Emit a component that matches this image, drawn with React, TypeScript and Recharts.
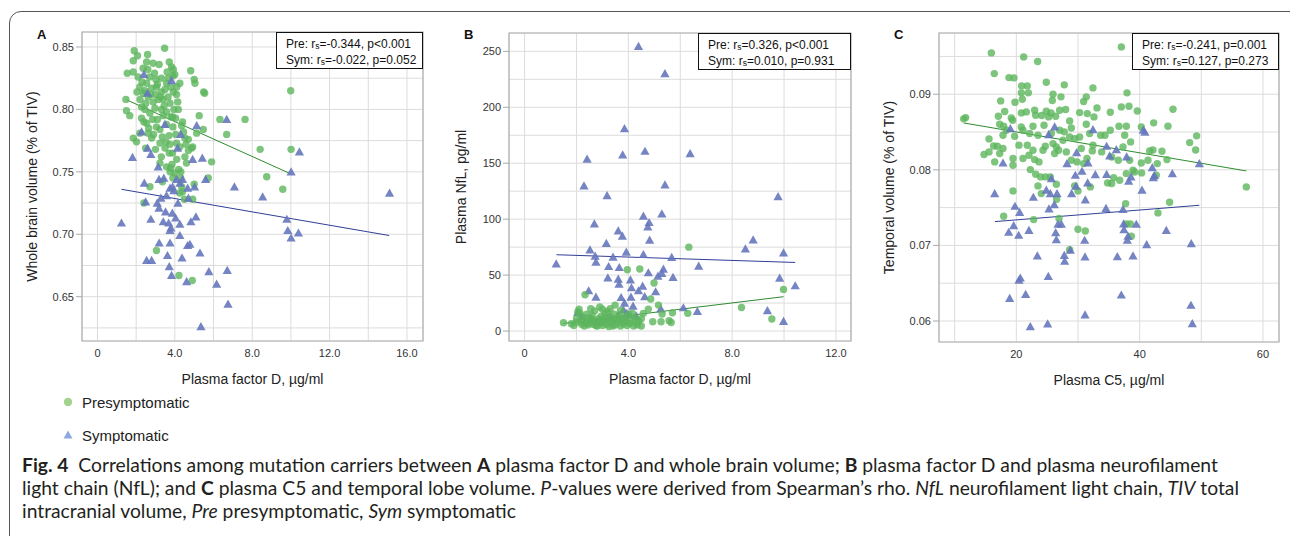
import React from 'react';
import { ScatterChart, Scatter, XAxis, YAxis, CartesianGrid, ReferenceLine, ReferenceArea, Label } from 'recharts';

const GREEN = '#5db55d';
const BLUE = '#6677bd';
const GREEN_FIT = '#2e8b2e';
const BLUE_FIT = '#2f3f96';

// ---- Panel A: plasma factor D vs whole brain volume
const presA = [
  [1.9, 0.847], [2.59, 0.844], [3.47, 0.849], [1.54, 0.829], [1.85, 0.83], [1.85, 0.839], [2.07, 0.843], [2.36, 0.833],
  [2.54, 0.838], [2.88, 0.837], [3.19, 0.836], [3.71, 0.838], [3.83, 0.834], [3.92, 0.832], [4.0, 0.828], [4.82, 0.831],
  [5.0, 0.824], [5.04, 0.821], [4.26, 0.821], [2.19, 0.818], [2.54, 0.821], [2.8, 0.817], [3.05, 0.818], [3.31, 0.814],
  [3.57, 0.821], [3.66, 0.825], [3.49, 0.816], [3.02, 0.824], [2.36, 0.813], [2.04, 0.814], [2.62, 0.81], [2.88, 0.806],
  [3.14, 0.808], [3.4, 0.808], [3.75, 0.805], [3.92, 0.814], [4.09, 0.812], [5.49, 0.814], [5.54, 0.813], [1.47, 0.808],
  [1.5, 0.799], [1.67, 0.795], [2.28, 0.802], [2.45, 0.8], [2.71, 0.797], [2.97, 0.801], [3.31, 0.8], [3.57, 0.798],
  [3.8, 0.794], [4.18, 0.8], [4.04, 0.793], [2.28, 0.793], [2.54, 0.789], [2.85, 0.792], [3.05, 0.786], [3.23, 0.784],
  [3.57, 0.788], [3.88, 0.794], [4.35, 0.787], [5.26, 0.795], [6.33, 0.792], [7.63, 0.792], [6.68, 0.78], [5.47, 0.784],
  [5.13, 0.781], [1.85, 0.777], [2.02, 0.774], [2.19, 0.781], [2.62, 0.781], [2.8, 0.777], [3.23, 0.773], [3.54, 0.774],
  [3.75, 0.772], [4.09, 0.773], [4.26, 0.77], [4.52, 0.777], [4.57, 0.772], [4.87, 0.769], [4.92, 0.77], [4.7, 0.767],
  [3.49, 0.769], [3.71, 0.765], [3.88, 0.765], [4.52, 0.762], [3.23, 0.757], [3.57, 0.754], [3.78, 0.753], [4.0, 0.749],
  [3.75, 0.75], [4.31, 0.75], [4.3, 0.745], [3.36, 0.742], [2.71, 0.738], [4.35, 0.738], [4.4, 0.734], [4.49, 0.728],
  [4.92, 0.728], [5.0, 0.74], [5.73, 0.745], [5.9, 0.758], [8.41, 0.768], [10.01, 0.768], [9.99, 0.815], [8.75, 0.746],
  [9.58, 0.736], [2.4, 0.725], [3.05, 0.687], [4.21, 0.667], [4.9, 0.663], [2.49, 0.769], [2.1, 0.826], [2.3, 0.822],
  [2.7, 0.826], [2.95, 0.829], [3.3, 0.825], [3.6, 0.83], [3.9, 0.827], [4.1, 0.818], [2.5, 0.805], [2.75, 0.812],
  [3.0, 0.812], [3.25, 0.81], [3.45, 0.803], [3.65, 0.81], [3.95, 0.8], [4.15, 0.806], [2.2, 0.808], [2.4, 0.79],
  [2.65, 0.785], [2.9, 0.78], [3.1, 0.792], [3.4, 0.795], [3.7, 0.779], [3.9, 0.786], [4.05, 0.78], [4.45, 0.782],
  [4.7, 0.776], [4.6, 0.757], [3.0, 0.768], [3.3, 0.762], [3.85, 0.756], [4.1, 0.76], [4.2, 0.752], [3.9, 0.745],
  [4.25, 0.733], [2.6, 0.832], [3.1, 0.82], [3.8, 0.818], [2.45, 0.815], [4.4, 0.79], [3.35, 0.778],
].map(([x, y]) => ({ x, y }));

const symA = [
  [1.24, 0.709], [1.81, 0.7615], [2.4, 0.828], [2.42, 0.741], [2.49, 0.726], [2.54, 0.679], [2.8, 0.679], [2.59, 0.769],
  [2.76, 0.764], [2.76, 0.712], [2.28, 0.782], [2.59, 0.813], [3.14, 0.754], [3.18, 0.721], [3.19, 0.693], [3.18, 0.744],
  [3.28, 0.729], [3.4, 0.71], [3.43, 0.745], [3.52, 0.718], [3.57, 0.731], [3.62, 0.683], [3.68, 0.709], [3.71, 0.674],
  [3.75, 0.693], [3.75, 0.703], [3.8, 0.705], [3.83, 0.667], [3.75, 0.737], [3.83, 0.823], [3.87, 0.717], [3.88, 0.738],
  [3.95, 0.735], [4.04, 0.713], [4.09, 0.744], [4.16, 0.725], [4.14, 0.769], [4.26, 0.699], [4.26, 0.708], [4.3, 0.78],
  [4.37, 0.681], [4.4, 0.744], [3.49, 0.788], [4.26, 0.741], [4.61, 0.662], [4.66, 0.691], [4.78, 0.692], [4.7, 0.729],
  [4.66, 0.737], [4.83, 0.71], [4.92, 0.76], [5.02, 0.738], [5.09, 0.714], [5.13, 0.787], [5.3, 0.685], [5.35, 0.626],
  [5.42, 0.761], [5.59, 0.744], [5.76, 0.67], [6.16, 0.66], [6.68, 0.792], [6.71, 0.671], [6.75, 0.644], [7.08, 0.738],
  [8.54, 0.73], [9.79, 0.712], [9.84, 0.703], [10.01, 0.75], [10.01, 0.697], [10.39, 0.701], [10.44, 0.766], [15.1, 0.733],
  [3.09, 0.725],
].map(([x, y]) => ({ x, y }));

const preFitA = [{ x: 1.5, y: 0.8077 }, { x: 9.99, y: 0.7484 }];
const symFitA = [{ x: 1.24, y: 0.736 }, { x: 15.08, y: 0.699 }];
const xTicksA = [0, 2, 4, 6, 8, 10, 12, 14, 16];
const yTicksA = [0.625, 0.65, 0.675, 0.7, 0.725, 0.75, 0.775, 0.8, 0.825, 0.85];

// ---- Panel B: plasma factor D vs plasma NfL
const presB = [
  [1.5, 7.4], [1.8, 6.5], [1.9, 5], [2.0, 8], [2.05, 17], [2.1, 19.5], [2.15, 15.5], [2.2, 6], [2.25, 9.5], [2.3, 4.5],
  [2.35, 12], [2.4, 7], [2.45, 5.5], [2.5, 10], [2.55, 8], [2.6, 14], [2.65, 6], [2.7, 18], [2.75, 9], [2.8, 4.5],
  [2.85, 11], [2.9, 7], [2.95, 13], [3.0, 5], [3.0, 19.5], [3.05, 8.5], [3.1, 16], [3.15, 6], [3.2, 10.5], [3.25, 4],
  [3.3, 13], [3.3, 20], [3.35, 7.5], [3.4, 9.5], [3.45, 15], [3.5, 5.5], [3.55, 11], [3.6, 8], [3.65, 14], [3.7, 4.5],
  [3.75, 10], [3.8, 6.5], [3.85, 12.5], [3.9, 8.5], [3.95, 5], [4.0, 15], [4.05, 7], [4.1, 10], [4.2, 4.5], [4.25, 12],
  [4.3, 7.5], [4.4, 9], [4.5, 4.5], [4.5, 11], [2.55, 20], [2.9, 21.5], [3.2, 17.5], [3.7, 18.5], [4.15, 16], [2.0, 11],
  [2.4, 15], [2.75, 5], [3.1, 12], [3.4, 4.5], [3.6, 11.5], [3.85, 9], [4.35, 5.5], [2.2, 8.5], [2.6, 10.5], [3.0, 9.5],
  [2.33, 32.4], [3.96, 54.8], [4.44, 55.4], [6.33, 75], [4.99, 42.9], [4.86, 28.6], [5.16, 23.2], [4.77, 19.6],
  [5.3, 15.2], [5.26, 8.3], [4.94, 8.3], [5.57, 9.2], [5.65, 7.7], [5.7, 16.4], [6.29, 15.8], [8.36, 21.1], [9.53, 10.7],
  [9.98, 37.2], [4.58, 15.8], [3.49, 23.2],
].map(([x, y]) => ({ x, y }));

const symB = [
  [4.39, 254.5], [5.41, 230], [3.85, 181], [2.41, 153.6], [3.78, 157.4], [4.64, 160.7], [6.38, 158.6], [2.29, 129.8],
  [5.41, 130.6], [3.18, 121], [9.77, 120.2], [4.58, 102.7], [5.29, 104.8], [2.69, 95.8], [4.8, 97], [4.75, 93.1],
  [3.61, 89.6], [3.77, 84.8], [4.82, 81.2], [8.81, 81.5], [3.15, 78.3], [8.51, 73.5], [2.52, 72.6], [3.92, 70.5],
  [9.98, 69.9], [2.72, 67], [4.58, 68.4], [3.41, 66], [5.67, 65.8], [2.75, 61.6], [1.22, 60.1], [3.24, 57.7],
  [3.65, 56.8], [6.71, 58], [5.35, 55.4], [4.77, 52.1], [5.29, 51.5], [5.14, 49.1], [3.21, 47.6], [3.61, 46.4],
  [4.08, 45.8], [5.72, 47.9], [9.83, 47.3], [3.64, 42], [4.55, 40.2], [10.43, 40.5], [4.12, 38.7], [4.39, 36],
  [5.05, 35.1], [2.47, 36], [3.72, 30], [2.75, 30.4], [4.1, 30.4], [4.63, 30.7], [3.85, 25], [4.18, 22.3], [3.81, 18.8],
  [2.05, 16.7], [5.25, 19.9], [6.12, 20.8], [6.66, 17.6], [9.36, 18.2], [9.98, 8.6], [3.94, 15.8], [4.01, 14.3],
  [2.57, 11.3], [2.2, 13], [2.8, 8], [3.3, 12], [3.6, 14], [4.3, 13.5],
].map(([x, y]) => ({ x, y }));

const preFitB = [{ x: 1.49, y: 6.8 }, { x: 9.98, y: 30.7 }];
const symFitB = [{ x: 1.23, y: 68.2 }, { x: 10.43, y: 61.3 }];
const xTicksB = [0, 2, 4, 6, 8, 10, 12];
const yTicksB = [0, 25, 50, 75, 100, 125, 150, 175, 200, 225, 250];

// ---- Panel C: plasma C5 vs temporal volume
const presC = [
  [11.46, 0.08674], [11.78, 0.08691], [15.95, 0.09547], [16.43, 0.09273], [21.19, 0.09494], [23.46, 0.09432],
  [37.03, 0.09626], [18.81, 0.0922], [19.62, 0.09216], [24.86, 0.09159], [27.78, 0.09124], [32.43, 0.09084],
  [20.86, 0.0911], [21.78, 0.0911], [20.81, 0.09018], [21.95, 0.09018], [25.95, 0.09], [37.95, 0.09018],
  [17.46, 0.08912], [19.78, 0.08894], [20.97, 0.08934], [25.84, 0.08916], [27.24, 0.08965], [30.92, 0.08903],
  [31.35, 0.08965], [17.08, 0.08709], [18.11, 0.08771], [19.19, 0.08687], [19.41, 0.08656], [20.81, 0.08753],
  [21.62, 0.08766], [22.97, 0.08788], [23.14, 0.08722], [24.11, 0.08718], [24.86, 0.08775], [25.24, 0.087],
  [25.62, 0.08753], [26.38, 0.08709], [27.03, 0.08788], [28.0, 0.08797], [28.65, 0.08647], [30.27, 0.08757],
  [31.51, 0.08744], [32.59, 0.087], [33.08, 0.08819], [35.24, 0.08762], [37.03, 0.08832], [38.27, 0.08841],
  [39.62, 0.08779], [45.41, 0.08801], [17.3, 0.08603], [17.95, 0.08577], [18.38, 0.08524], [17.84, 0.08457],
  [19.73, 0.08444], [20.81, 0.08568], [21.08, 0.08524], [22.16, 0.0848], [22.7, 0.08577], [23.51, 0.08457],
  [24.49, 0.0859], [25.68, 0.0848], [27.03, 0.08524], [27.78, 0.08502], [28.92, 0.08554], [30.27, 0.08435],
  [31.35, 0.08603], [31.89, 0.0848], [33.68, 0.08457], [35.24, 0.08524], [36.65, 0.08577], [37.84, 0.08577],
  [37.57, 0.08457], [40.27, 0.08568], [42.27, 0.08621], [44.59, 0.08577], [49.24, 0.08449], [48.11, 0.0836],
  [49.08, 0.08263], [15.57, 0.08409], [14.76, 0.08202], [15.57, 0.08237], [16.32, 0.08316], [16.92, 0.08312],
  [16.49, 0.08105], [17.3, 0.08215], [17.84, 0.08281], [19.46, 0.08149], [20.43, 0.08325], [21.08, 0.08149],
  [21.78, 0.08325], [22.05, 0.08193], [22.7, 0.08259], [22.97, 0.08135], [23.68, 0.08105], [24.32, 0.08259],
  [24.7, 0.08312], [25.95, 0.08347], [26.22, 0.08215], [26.49, 0.08303], [26.86, 0.08259], [27.57, 0.08391],
  [28.11, 0.08237], [28.65, 0.08435], [29.46, 0.08413], [28.92, 0.08127], [29.84, 0.08105], [30.54, 0.08281],
  [30.92, 0.08082], [31.46, 0.08149], [32.32, 0.0825], [32.43, 0.08325], [33.84, 0.08237], [34.38, 0.08457],
  [35.46, 0.0817], [36.54, 0.08127], [38.38, 0.08127], [39.19, 0.07972], [40.27, 0.08091], [41.35, 0.08127],
  [41.62, 0.0825], [42.16, 0.08263], [42.86, 0.08082], [43.62, 0.08246], [44.43, 0.08135], [40.32, 0.07959],
  [42.7, 0.07928], [42.97, 0.0743], [44.86, 0.07571], [57.3, 0.07774], [23.14, 0.07941], [23.95, 0.07906],
  [24.76, 0.07906], [25.51, 0.07906], [26.49, 0.07809], [23.51, 0.07787], [24.05, 0.07685], [26.54, 0.0761],
  [26.92, 0.07355], [29.46, 0.07787], [30.0, 0.07721], [32.0, 0.07774], [30.0, 0.07213], [31.19, 0.07191],
  [28.65, 0.06944], [34.81, 0.07827], [35.46, 0.07818], [35.78, 0.07897], [36.76, 0.07862], [37.84, 0.0795],
  [37.73, 0.07553], [37.84, 0.07284], [38.49, 0.07284], [38.65, 0.07121], [19.46, 0.0806], [19.46, 0.07721],
  [17.95, 0.07386], [22.81, 0.07341], [22.27, 0.08003], [37.3, 0.08303], [38.54, 0.08369], [38.92, 0.07994],
].map(([x, y]) => ({ x, y }));

const symC = [
  [19.03, 0.08545], [17.84, 0.0809], [16.49, 0.07685], [19.78, 0.07518], [20.54, 0.07438], [19.57, 0.07262],
  [18.76, 0.07174], [20.38, 0.07134], [22.05, 0.072], [22.76, 0.07637], [23.41, 0.06861], [18.92, 0.063],
  [20.43, 0.06539], [20.65, 0.06569], [21.51, 0.06353], [22.27, 0.05925], [25.08, 0.05961], [25.19, 0.0659],
  [25.24, 0.08466], [25.68, 0.07884], [25.51, 0.07685], [24.86, 0.0773], [25.3, 0.07483], [26.16, 0.0754],
  [26.22, 0.08568], [26.6, 0.07685], [26.76, 0.0728], [26.38, 0.0717], [26.49, 0.07077], [27.3, 0.0728],
  [27.78, 0.06869], [27.84, 0.0679], [28.22, 0.08082], [28.76, 0.06936], [28.97, 0.07685], [29.57, 0.07928],
  [29.68, 0.07783], [29.78, 0.08228], [30.65, 0.07981], [31.08, 0.07068], [31.14, 0.06847], [31.19, 0.07602],
  [31.14, 0.0608], [31.57, 0.07827], [31.62, 0.08091], [32.43, 0.08532], [32.81, 0.07937], [34.65, 0.0794],
  [34.65, 0.08312], [34.54, 0.07491], [35.14, 0.08184], [36.22, 0.08268], [36.38, 0.06852], [37.03, 0.06344],
  [37.3, 0.07477], [37.41, 0.07284], [37.46, 0.07209], [37.89, 0.0817], [38.0, 0.07068], [38.11, 0.07121],
  [38.22, 0.07849], [38.59, 0.07906], [38.92, 0.06861], [39.46, 0.0728], [40.38, 0.0773], [40.59, 0.08524],
  [40.86, 0.08497], [41.14, 0.0701], [42.05, 0.0803], [42.22, 0.07897], [42.38, 0.07924], [44.32, 0.072],
  [45.3, 0.0795], [48.38, 0.07024], [48.32, 0.06208], [48.54, 0.05965], [49.68, 0.08082],
].map(([x, y]) => ({ x, y }));

const preFitC = [{ x: 11.46, y: 0.0862 }, { x: 57.3, y: 0.07985 }];
const symFitC = [{ x: 16.54, y: 0.07315 }, { x: 49.68, y: 0.07531 }];
const xTicksC = [10, 20, 30, 40, 50, 60];
const yTicksC = [0.06, 0.065, 0.07, 0.075, 0.08, 0.085, 0.09, 0.095];

const near = (v, step) => Math.abs(v / step - Math.round(v / step)) < 1e-6;

const fmtXA = (v) => (near(v, 4) ? (v === 0 ? '0' : v.toFixed(1)) : '');
const fmtYA = (v) => (near(v, 0.05) ? v.toFixed(2) : '');
const fmtYB = (v) => (near(v, 50) ? String(v) : '');
const fmtXC = (v) => (near(v, 20) ? String(v) : '');
const fmtYC = (v) => (near(v, 0.01) ? v.toFixed(2) : '');

const SANS = '"Liberation Sans", Arial, sans-serif';
const tickFont = { fontFamily: SANS, fontSize: 11, fill: '#333' };
const titleFont = { fontFamily: SANS, fontSize: 14, fill: '#222' };

const XTick = (fmt) => (props) => {
  const { x, y, payload } = props;
  const t = fmt(payload.value);
  if (!t) return <g />;
  return (
    <text x={x} y={y} dy="0.71em" textAnchor="middle" style={tickFont}>{t}</text>
  );
};

const YTick = (fmt) => (props) => {
  const { x, y, payload } = props;
  const t = fmt(payload.value);
  if (!t) return <g />;
  return (
    <g>
      <line x1={x + 2} x2={x + 8} y1={y} y2={y} stroke="#aaa" />
      <text x={x} y={y} dy="0.355em" textAnchor="end" style={tickFont}>{t}</text>
    </g>
  );
};

const Dot = (p) => <circle cx={p.cx} cy={p.cy} r={3.7} fill={GREEN} fillOpacity={0.8} />;
const Tri = (p) => (
  <polygon
    points={`${p.cx},${p.cy - 4.6} ${p.cx + 4.6},${p.cy + 3.6} ${p.cx - 4.6},${p.cy + 3.6}`}
    fill={BLUE}
    fillOpacity={0.9}
  />
);

const Rs = () => (
  <span>r<span style={{ fontSize: 8.5, verticalAlign: '-1px' }}>s</span></span>
);

function Panel(props) {
  const {
    left, width, tag, pres, sym, xDomain, yDomain, xTicks, yTicks, fmtX, fmtY,
    xLabel, yLabel, preFit, symFit, stats, margin, yLabelOffset, statsWidth, greenOnTop,
  } = props;
  const green = (
    <Scatter key="g" data={pres} shape={Dot} isAnimationActive={false} />
  );
  const blue = (
    <Scatter key="b" data={sym} shape={Tri} isAnimationActive={false} />
  );
  return (
    <div style={{ position: 'absolute', left, top: 0, width, height: 400 }}>
      <ScatterChart width={width} height={400} margin={margin}>
        <CartesianGrid stroke="#dcdcdc" />
        <XAxis
          type="number"
          dataKey="x"
          domain={xDomain}
          ticks={xTicks}
          interval={0}
          allowDataOverflow
          axisLine={false}
          tickLine={false}
          height={50}
          tick={XTick(fmtX)}
        >
          <Label value={xLabel} position="insideBottom" offset={7} style={titleFont} />
        </XAxis>
        <YAxis
          type="number"
          dataKey="y"
          domain={yDomain}
          ticks={yTicks}
          interval={0}
          allowDataOverflow
          axisLine={false}
          tickLine={false}
          width={60}
          tick={YTick(fmtY)}
        >
          <Label
            value={yLabel}
            angle={-90}
            position="insideLeft"
            offset={yLabelOffset}
            style={{ ...titleFont, textAnchor: 'middle' }}
          />
        </YAxis>
        <ReferenceArea
          x1={xDomain[0]}
          x2={xDomain[1]}
          y1={yDomain[0]}
          y2={yDomain[1]}
          fill="none"
          stroke="#b0b0b0"
          strokeWidth={1.2}
        />
        {greenOnTop ? [blue, green] : [green, blue]}
        <ReferenceLine segment={preFit} stroke={GREEN_FIT} strokeWidth={1} />
        <ReferenceLine segment={symFit} stroke={BLUE_FIT} strokeWidth={1} />
      </ScatterChart>
      <div
        style={{
          position: 'absolute',
          top: margin.top,
          right: margin.right,
          width: statsWidth,
          height: 37,
          boxSizing: 'border-box',
          border: '1px solid #111',
          background: '#fff',
          padding: '4px 0 0 9px',
          fontFamily: SANS,
          fontSize: 12,
          lineHeight: '14px',
          color: '#111',
          whiteSpace: 'nowrap',
        }}
      >
        <div>Pre: <Rs />{stats[0]}</div>
        <div>Sym: <Rs />{stats[1]}</div>
      </div>
      <div
        style={{
          position: 'absolute',
          left: margin.left + 15,
          top: 27,
          fontFamily: SANS,
          fontWeight: 'bold',
          fontSize: 13,
          color: '#111',
        }}
      >
        {tag}
      </div>
    </div>
  );
}

const App = () => {
  return (
    <div style={{ position: 'absolute', left: 0, top: 0, width: 1290, height: 536, overflow: 'hidden', background: '#fff' }}>
      <div
        style={{
          position: 'absolute',
          left: 9,
          top: 11,
          width: 1290,
          height: 540,
          border: '1px solid #555',
          borderRadius: 12,
        }}
      />
      <Panel
        left={0}
        width={440}
        tag="A"
        pres={presA}
        sym={symA}
        xDomain={[-0.8, 16.83]}
        yDomain={[0.6145, 0.862]}
        xTicks={xTicksA}
        yTicks={yTicksA}
        fmtX={fmtXA}
        fmtY={fmtYA}
        xLabel="Plasma factor D, µg/ml"
        yLabel="Whole brain volume (% of TIV)"
        preFit={preFitA}
        symFit={symFitA}
        stats={['=-0.344, p<0.001', '=-0.022, p=0.052']}
        margin={{ top: 32, right: 17, left: 22, bottom: 9 }}
        yLabelOffset={10}
        statsWidth={147}
      />
      <Panel
        left={430}
        width={440}
        tag="B"
        pres={presB}
        sym={symB}
        xDomain={[-0.6, 12.58]}
        yDomain={[-8.9, 266.4]}
        xTicks={xTicksB}
        yTicks={yTicksB}
        fmtX={fmtXA}
        fmtY={fmtYB}
        xLabel="Plasma factor D, µg/ml"
        yLabel="Plasma NfL, pg/ml"
        preFit={preFitB}
        symFit={symFitB}
        stats={['=0.326, p<0.001', '=0.010, p=0.931']}
        margin={{ top: 33, right: 19, left: 19, bottom: 9 }}
        yLabelOffset={12}
        statsWidth={153}
        greenOnTop
      />
      <Panel
        left={860}
        width={430}
        tag="C"
        pres={presC}
        sym={symC}
        xDomain={[7.46, 62.6]}
        yDomain={[0.05722, 0.0981]}
        xTicks={xTicksC}
        yTicks={yTicksC}
        fmtX={fmtXC}
        fmtY={fmtYC}
        xLabel="Plasma C5, µg/ml"
        yLabel="Temporal volume (% of TIV)"
        preFit={preFitC}
        symFit={symFitC}
        stats={['=-0.241, p=0.001', '=0.127, p=0.273']}
        margin={{ top: 33, right: 11, left: 19, bottom: 8 }}
        yLabelOffset={10}
        statsWidth={147}
      />
      {/* legend */}
      <div style={{ position: 'absolute', left: 62, top: 393, fontFamily: SANS, fontSize: 15, color: '#222' }}>
        <div style={{ display: 'flex', alignItems: 'center', height: 18 }}>
          <svg width={12} height={12} style={{ marginRight: 8 }}>
            <circle cx={6} cy={6} r={4.2} fill="#a3d48e" />
          </svg>
          Presymptomatic
        </div>
        <div style={{ display: 'flex', alignItems: 'center', height: 18, marginTop: 15 }}>
          <svg width={12} height={12} style={{ marginRight: 8 }}>
            <polygon points="6,1.5 10.5,9.5 1.5,9.5" fill="#8ea8e0" />
          </svg>
          Symptomatic
        </div>
      </div>
      {/* caption */}
      <div
        style={{
          position: 'absolute',
          left: 22,
          top: 453,
          width: 1262,
          fontFamily: 'Lato, "Open Sans", sans-serif',
          fontSize: 19.3,
          lineHeight: '23px',
          color: '#231f20',
          whiteSpace: 'nowrap',
        }}
      >
        <div><b>Fig. 4</b>&nbsp; Correlations among mutation carriers between <b>A</b> plasma factor D and whole brain volume; <b>B</b> plasma factor D and plasma neurofilament</div>
        <div>light chain (NfL); and <b>C</b> plasma C5 and temporal lobe volume. <i>P</i>-values were derived from Spearman’s rho. <i>NfL</i> neurofilament light chain, <i>TIV</i> total</div>
        <div>intracranial volume, <i>Pre</i> presymptomatic, <i>Sym</i> symptomatic</div>
      </div>
    </div>
  );
};

export default App;
